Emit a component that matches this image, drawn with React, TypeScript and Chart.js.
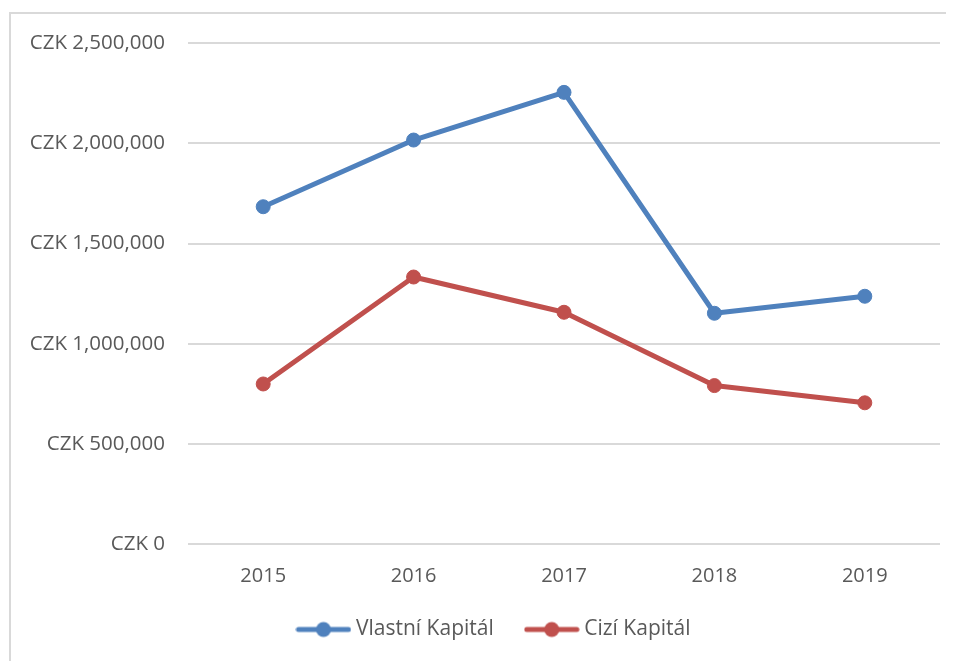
import React, { useEffect, useRef } from "react";
import { Chart, registerables } from "chart.js";

Chart.register(...registerables);

const years = ["2015", "2016", "2017", "2018", "2019"];
const vlastniKapital = [1684000, 2017000, 2255000, 1152000, 1237000];
const ciziKapital = [799000, 1333000, 1157000, 791000, 705000];
const seriesNames = ["Vlastní Kapitál", "Cizí Kapitál"];
const seriesColors = ["#4f81bd", "#c0504d"];
const yMin = 0;
const yMax = 2500000;
const yStep = 500000;

const FONT = "'Open Sans', Lato, sans-serif";
const TEXT = "#595959";
const GRID = "#d9d9d9";
const LEGEND_SHIFT = 22;

function legendMarker(color: string) {
  const c = document.createElement("canvas");
  c.width = 56;
  c.height = 18;
  const g = c.getContext("2d")!;
  g.strokeStyle = color;
  g.lineWidth = 5;
  g.lineCap = "round";
  g.beginPath();
  g.moveTo(3, 9);
  g.lineTo(53, 9);
  g.stroke();
  g.fillStyle = color;
  g.beginPath();
  g.arc(28, 9, 7.5, 0, Math.PI * 2);
  g.fill();
  return c;
}

const shiftLegend = {
  id: "shiftLegend",
  afterLayout(chart: any) {
    const l = chart.legend;
    if (l) {
      l.left += LEGEND_SHIFT;
      l.right += LEGEND_SHIFT;
    }
  },
};

export default function App() {
  const ref = useRef<HTMLCanvasElement>(null);

  useEffect(() => {
    const markers = seriesColors.map(legendMarker);
    const seriesData = [vlastniKapital, ciziKapital];
    const chart = new Chart(ref.current!, {
      type: "line",
      data: {
        labels: years,
        datasets: seriesNames.map((name, i) => ({
          label: name,
          data: seriesData[i],
          borderColor: seriesColors[i],
          backgroundColor: seriesColors[i],
          borderWidth: 5,
          borderJoinStyle: "round" as const,
          borderCapStyle: "round" as const,
          pointRadius: 7,
          pointBorderWidth: 1,
          pointBorderColor: seriesColors[i],
          pointBackgroundColor: seriesColors[i],
          tension: 0,
          fill: false,
        })),
      },
      plugins: [shiftLegend],
      options: {
        responsive: false,
        animation: false,
        devicePixelRatio: 1,
        layout: { padding: { left: 0, right: 14, top: 34, bottom: 11 } },
        plugins: {
          tooltip: { enabled: false },
          title: { display: false },
          legend: {
            display: true,
            position: "bottom",
            labels: {
              usePointStyle: true,
              pointStyleWidth: 44,
              padding: 36,
              color: TEXT,
              font: { family: FONT, size: 21 },
              generateLabels: (c: any) =>
                c.data.datasets.map((ds: any, i: number) => ({
                  text: ds.label,
                  pointStyle: markers[i],
                  fillStyle: seriesColors[i],
                  strokeStyle: seriesColors[i],
                  lineWidth: 0,
                  hidden: false,
                  datasetIndex: i,
                  fontColor: TEXT,
                })),
            },
          },
        },
        scales: {
          x: {
            offset: true,
            grid: { display: false, drawTicks: false },
            border: { display: false },
            ticks: {
              color: TEXT,
              font: { family: FONT, size: 20 },
              padding: 20,
              maxRotation: 0,
            },
            afterFit: (s: any) => {
              s.height = 39;
            },
          },
          y: {
            min: yMin,
            max: yMax,
            grid: { color: GRID, lineWidth: 2, drawTicks: false },
            border: { display: false },
            ticks: {
              stepSize: yStep,
              color: TEXT,
              padding: 23,
              font: { family: FONT, size: 20.5 },
              callback: (v: any) => "CZK " + Number(v).toLocaleString("en-US"),
            },
            afterFit: (s: any) => {
              s.width = 180;
            },
          },
        },
      },
    });
    return () => chart.destroy();
  }, []);

  return (
    <div style={{ position: "relative", width: 946, height: 653, overflow: "hidden" }}>
      <div
        style={{
          position: "absolute",
          left: 1,
          top: 4,
          width: 2000,
          height: 2000,
          borderTop: "2px solid #d9d9d9",
          borderLeft: "2px solid #d9d9d9",
        }}
      />
      <canvas ref={ref} width={946} height={653} style={{ position: "absolute", left: 0, top: 0 }} />
    </div>
  );
}
